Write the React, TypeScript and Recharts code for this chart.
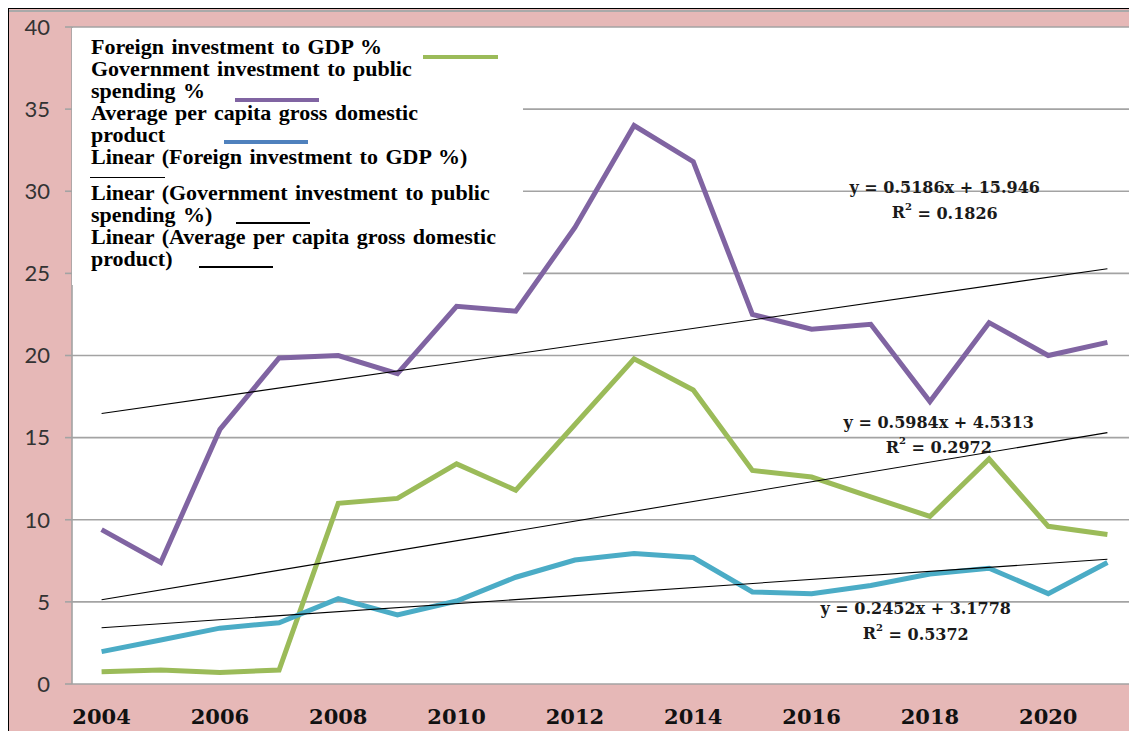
import React from 'react'
import { ComposedChart, Line, XAxis, YAxis, CartesianGrid, ReferenceLine, ReferenceDot, Legend } from 'recharts'

// values
const years = [2004, 2005, 2006, 2007, 2008, 2009, 2010, 2011, 2012, 2013, 2014, 2015, 2016, 2017, 2018, 2019, 2020, 2021]
const foreignInvestment = [0.75, 0.85, 0.7, 0.85, 11.0, 11.3, 13.4, 11.8, 15.8, 19.8, 17.9, 13.0, 12.6, 11.4, 10.2, 13.7, 9.6, 9.1]
const govInvestment = [9.4, 7.4, 15.5, 19.85, 20.0, 18.9, 23.0, 22.7, 27.8, 34.0, 31.8, 22.5, 21.6, 21.9, 17.2, 22.0, 20.0, 20.8]
const perCapitaGdp = [1.97, 2.68, 3.4, 3.73, 5.2, 4.2, 5.05, 6.5, 7.55, 7.95, 7.7, 5.6, 5.5, 6.0, 6.7, 7.05, 5.5, 7.4]

const xTickYears = [2004, 2006, 2008, 2010, 2012, 2014, 2016, 2018, 2020]
const yTicks = [0, 5, 10, 15, 20, 25, 30, 35, 40]

// trendlines as printed on the chart (x = 1..18)
const trendKeys = ['gov', 'foreign', 'gdp']
const trendSlopes = [0.5186, 0.5984, 0.2452]
const trendIntercepts = [15.946, 4.5313, 3.1778]
const trendEquations = ['y = 0.5186x + 15.946', 'y = 0.5984x + 4.5313', 'y = 0.2452x + 3.1778']
const trendR2 = ['0.1826', '0.2972', '0.5372']
// where the equation labels sit (data coords)
const eqAnchorX = [2018.25, 2018.15, 2017.76]
const eqAnchorY = [30.2, 15.95, 4.57]

const GREEN = '#9bbb59'
const PURPLE = '#8064a2'
const CYAN = '#4bacc6'
const GRID = '#a3a3a3'
const PINK = '#e6b8b7'

const data = years.map((year, i) => ({
  year,
  foreign: foreignInvestment[i],
  gov: govInvestment[i],
  gdp: perCapitaGdp[i],
}))

const bounds = [...years.map(y => y - 0.5), years[years.length - 1] + 0.5]

const legendItems = [
  { lines: ['Foreign investment to GDP %'], color: GREEN, weight: 4, gap: 41, width: 75, drop: 2 },
  { lines: ['Government investment to public', 'spending %'], color: PURPLE, weight: 4, gap: 30, width: 84, drop: 1 },
  { lines: ['Average per capita gross domestic', 'product'], color: '#4f81bd', weight: 4, gap: 59, width: 84, drop: -1 },
  { lines: ['Linear (Foreign investment to GDP %)'], color: '#000', weight: 1.3, gap: 0, width: 75, drop: 0, ownRow: true },
  { lines: ['Linear (Government investment to public', 'spending %)'], color: '#000', weight: 1.3, gap: 24, width: 74, drop: 0 },
  { lines: ['Linear (Average per capita gross domestic', 'product)'], color: '#000', weight: 1.3, gap: 26, width: 74, drop: 0 },
]

function ChartLegend() {
  return (
    <div style={{
      width: 451, height: 257, background: '#fff', boxSizing: 'border-box', padding: '8px 0 0 19px',
      fontFamily: '"Liberation Serif", serif', fontWeight: 'bold', fontSize: 22, lineHeight: '22px',
      wordSpacing: 2, color: '#000', whiteSpace: 'nowrap', textAlign: 'left',
    }}>
      {legendItems.map((it, i) => (
        <div key={i}>
          {it.lines.map((ln, j) => (
            <div key={j}>
              {ln}
              {!it.ownRow && j === it.lines.length - 1 && (
                <span style={{
                  display: 'inline-block', width: it.width, height: it.weight, background: it.color,
                  marginLeft: it.gap, verticalAlign: 'baseline', position: 'relative', top: it.weight / 2 + 1 + it.drop,
                }} />
              )}
            </div>
          ))}
          {it.ownRow && (
            <div style={{ height: 14, position: 'relative' }}>
              <span style={{ position: 'absolute', left: -1, top: 9, width: it.width, height: it.weight, background: it.color }} />
            </div>
          )}
        </div>
      ))}
    </div>
  )
}

function Equation({ cx, cy, eq, r2 }: { cx: number; cy: number; eq: string; r2: string }) {
  const style = { fontFamily: '"DejaVu Serif", serif', fontWeight: 'bold' as const, fontSize: 16, fill: '#1a1a1a' }
  return (
    <g>
      <text x={cx} y={cy} textAnchor="middle" dominantBaseline="central" style={style}>{eq}</text>
      <text x={cx} y={cy + 25} textAnchor="middle" dominantBaseline="central" style={style}>
        R<tspan fontSize={10} dy={-7}>2</tspan><tspan dy={7}> = {r2}</tspan>
      </text>
    </g>
  )
}

export default function App() {
  return (
    <div style={{
      position: 'relative', width: 1129, height: 723, background: PINK,
      borderTop: '1px solid #000', borderLeft: '1px solid #000', boxSizing: 'border-box', overflow: 'hidden',
    }}>
      <div style={{ position: 'absolute', left: 0, right: 0, top: 1, height: 2, background: '#a9a9a9' }} />
      <div style={{ position: 'absolute', left: 0, top: 0 }}>
        <ComposedChart width={1128} height={722} data={data} margin={{ top: 18, right: 0, left: 0, bottom: 0 }}>
          <CartesianGrid xAxisId="main" vertical={false} stroke={GRID} strokeWidth={1.6} fill="#fff" fillOpacity={1} />
          <XAxis xAxisId="bounds" dataKey="year" type="number" domain={[bounds[0], bounds[bounds.length - 1]]}
            ticks={bounds} interval={0} height={0} tick={false} tickSize={8}
            tickLine={{ stroke: GRID, strokeWidth: 1.6 }} axisLine={{ stroke: GRID, strokeWidth: 1.6 }} />
          <XAxis xAxisId="main" dataKey="year" type="number" domain={[bounds[0], bounds[bounds.length - 1]]}
            ticks={xTickYears} interval={0} height={47} tickLine={false} axisLine={false} tickSize={0} tickMargin={25}
            tick={{ fontFamily: '"DejaVu Serif", serif', fontWeight: 'bold', fontSize: 21, fill: '#111' }} />
          <YAxis domain={[0, 40]} ticks={yTicks} interval={0} width={63} tickSize={7} tickMargin={15}
            tickLine={{ stroke: GRID, strokeWidth: 1.6 }} axisLine={{ stroke: GRID, strokeWidth: 1.6 }}
            tick={{ fontFamily: 'Lato, sans-serif', fontSize: 22, fill: '#333' }} />

          <Line xAxisId="main" dataKey="foreign" stroke={GREEN} strokeWidth={5} dot={false} isAnimationActive={false} />
          <Line xAxisId="main" dataKey="gov" stroke={PURPLE} strokeWidth={5} dot={false} isAnimationActive={false} />
          <Line xAxisId="main" dataKey="gdp" stroke={CYAN} strokeWidth={5} dot={false} isAnimationActive={false} />

          {trendKeys.map((k, i) => (
            <ReferenceLine key={k} xAxisId="main" ifOverflow="visible" stroke="#000" strokeWidth={1.1}
              segment={[
                { x: years[0], y: trendSlopes[i] * 1 + trendIntercepts[i] },
                { x: years[years.length - 1], y: trendSlopes[i] * years.length + trendIntercepts[i] },
              ]} />
          ))}
          {trendKeys.map((k, i) => (
            <ReferenceDot key={'eq' + k} xAxisId="main" x={eqAnchorX[i]} y={eqAnchorY[i]} r={0} ifOverflow="visible"
              shape={(p: any) => <Equation cx={p.cx} cy={p.cy} eq={trendEquations[i]} r2={trendR2[i]} />} />
          ))}

          <Legend layout="vertical" align="center" verticalAlign="middle" content={() => <ChartLegend />}
            wrapperStyle={{ left: 63, top: 19, width: 451, height: 257 }} />
        </ComposedChart>
      </div>
    </div>
  )
}
